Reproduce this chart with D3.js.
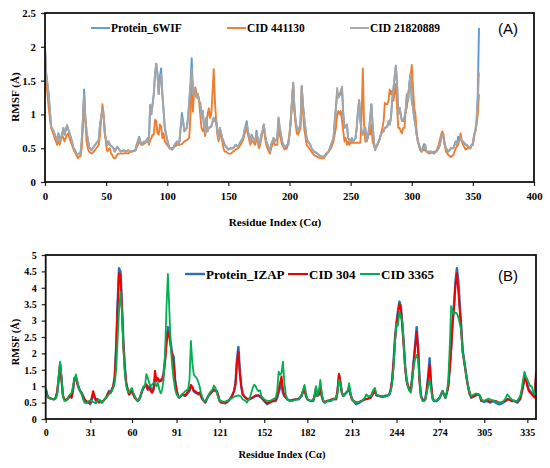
<!DOCTYPE html>
<html>
<head>
<meta charset="utf-8">
<script src="https://cdn.jsdelivr.net/npm/d3@7"></script>
<style>
  body { margin: 0; background: #fff; }
  svg text { font-family: "Liberation Serif", "Times New Roman", serif; font-weight: bold; fill: #000; }
</style>
</head>
<body>
<div id="fig"></div>
<script>
// ---- panel A data: [residue, RMSF] ----
const protein6WIF = [[0,2.0],[1,1.6],[3,1.3],[5,0.82],[7,0.75],[8,0.7],[10,0.6],[11,0.72],[12,0.6],[14,0.7],[15,0.8],[16,0.7],[18,0.84],[19,0.78],[21,0.67],[22,0.6],[23,0.52],[25,0.45],[26,0.4],[27,0.42],[29,0.42],[30,0.6],[31,0.95],[32,1.37],[33,0.95],[34,0.75],[36,0.52],[38,0.47],[41,0.55],[44,0.62],[45,0.85],[47,1.08],[48,0.95],[49,0.7],[51,0.55],[52,0.6],[53,0.55],[55,0.52],[56,0.5],[57,0.45],[59,0.52],[60,0.5],[62,0.45],[64,0.47],[66,0.45],[68,0.47],[70,0.45],[72,0.46],[74,0.47],[75,0.55],[77,0.67],[78,0.6],[79,0.55],[81,0.6],[82,0.58],[84,0.65],[85,0.58],[86,1.14],[87,1.0],[89,1.3],[90,1.6],[91,1.75],[92,1.6],[93,1.3],[94,1.55],[95,1.68],[96,1.3],[97,1.05],[98,0.8],[100,0.62],[101,0.55],[102,0.5],[104,0.48],[105,0.5],[106,0.55],[108,0.6],[109,0.55],[110,0.6],[111,0.82],[112,1.02],[113,0.9],[114,0.75],[116,0.8],[117,0.95],[119,1.45],[120,1.83],[121,1.35],[122,1.38],[123,1.3],[124,1.25],[125,1.3],[126,1.2],[127,1.17],[128,0.95],[129,1.05],[130,0.85],[131,0.72],[132,0.95],[133,0.75],[134,0.8],[136,0.82],[138,0.95],[139,0.9],[140,0.92],[141,0.75],[142,0.65],[143,0.8],[145,0.65],[146,0.6],[147,0.55],[150,0.48],[152,0.5],[154,0.5],[156,0.55],[158,0.52],[160,0.6],[162,0.65],[163,0.75],[165,0.9],[166,0.75],[168,0.6],[169,0.7],[170,0.65],[172,0.6],[173,0.76],[174,0.65],[175,0.55],[176,0.6],[177,0.7],[178,0.75],[179,0.85],[180,0.7],[181,0.6],[183,0.5],[184,0.45],[185,0.55],[187,0.65],[188,0.6],[190,0.65],[191,0.95],[192,0.8],[194,0.6],[195,0.55],[196,0.5],[198,0.55],[199,0.55],[200,0.7],[201,0.9],[203,1.47],[204,1.1],[205,0.9],[206,0.8],[207,0.75],[209,0.85],[210,1.42],[211,1.15],[212,0.95],[213,0.8],[214,0.65],[215,0.6],[217,0.55],[218,0.5],[220,0.45],[222,0.43],[224,0.4],[226,0.38],[228,0.37],[230,0.42],[232,0.45],[233,0.5],[235,0.6],[236,0.65],[237,0.9],[238,1.1],[239,1.32],[240,1.25],[241,1.28],[243,1.35],[244,1.0],[245,0.8],[247,0.85],[248,0.65],[250,0.6],[251,0.65],[252,0.6],[254,0.65],[255,0.8],[256,1.05],[257,1.21],[258,0.9],[259,0.75],[260,0.7],[262,0.8],[263,0.6],[264,0.65],[265,0.75],[266,0.95],[267,1.15],[268,0.85],[269,0.6],[270,0.47],[271,0.52],[273,0.6],[274,0.65],[275,0.72],[277,0.75],[278,0.8],[280,0.82],[281,0.9],[282,0.85],[283,0.95],[284,1.2],[286,1.55],[287,1.72],[288,1.45],[289,1.0],[290,1.1],[292,0.9],[293,0.9],[294,0.95],[295,1.05],[296,1.3],[297,1.2],[298,1.45],[299,1.6],[300,1.2],[301,1.1],[302,0.95],[303,0.85],[304,0.7],[305,0.6],[307,0.47],[308,0.45],[309,0.5],[310,0.56],[311,0.55],[312,0.45],[314,0.45],[316,0.45],[318,0.42],[320,0.45],[322,0.5],[323,0.55],[324,0.65],[325,0.72],[326,0.65],[327,0.55],[328,0.5],[330,0.45],[332,0.5],[334,0.5],[335,0.55],[336,0.6],[337,0.55],[338,0.67],[339,0.62],[340,0.65],[341,0.6],[342,0.6],[344,0.55],[345,0.55],[346,0.52],[348,0.5],[349,0.55],[350,0.55],[351,0.7],[352,0.75],[353,0.9],[354,1.3],[355,2.28]];

const cid441130 = [[0,1.9],[1,1.5],[3,1.1],[5,0.8],[6,0.75],[8,0.65],[10,0.55],[11,0.65],[12,0.55],[14,0.7],[15,0.65],[16,0.6],[18,0.7],[19,0.72],[20,0.65],[22,0.55],[23,0.5],[24,0.45],[25,0.42],[27,0.35],[28,0.38],[29,0.38],[30,0.5],[31,0.8],[32,1.27],[33,0.9],[34,0.6],[35,0.5],[36,0.45],[38,0.42],[40,0.45],[42,0.5],[44,0.55],[45,0.7],[46,0.95],[47,1.15],[48,1.0],[49,0.75],[50,0.55],[51,0.45],[52,0.48],[53,0.5],[54,0.42],[55,0.4],[56,0.36],[57,0.35],[58,0.36],[59,0.4],[60,0.42],[62,0.42],[64,0.42],[66,0.43],[68,0.42],[70,0.45],[72,0.45],[74,0.47],[76,0.55],[77,0.6],[78,0.57],[80,0.55],[82,0.58],[84,0.62],[85,0.55],[86,0.62],[87,0.65],[88,0.7],[89,0.7],[90,0.92],[91,0.9],[92,0.72],[93,0.7],[94,0.85],[95,0.82],[96,0.65],[97,0.72],[98,0.6],[100,0.55],[101,0.52],[102,0.5],[104,0.5],[106,0.52],[108,0.55],[110,0.55],[112,0.56],[114,0.6],[116,0.62],[118,0.65],[119,1.0],[120,1.5],[121,1.04],[122,1.35],[123,1.4],[124,1.3],[125,1.3],[126,1.2],[127,1.0],[128,0.8],[129,0.75],[130,0.8],[131,0.68],[132,0.8],[133,1.0],[134,1.09],[135,0.95],[136,1.0],[137,1.3],[138,1.67],[139,1.2],[140,0.9],[141,0.7],[142,0.6],[143,0.75],[145,0.6],[146,0.5],[147,0.45],[148,0.45],[150,0.42],[152,0.42],[154,0.45],[156,0.48],[158,0.5],[160,0.55],[162,0.62],[163,0.7],[165,0.8],[166,0.7],[168,0.55],[169,0.62],[170,0.6],[172,0.55],[173,0.65],[174,0.6],[175,0.5],[176,0.55],[177,0.65],[178,0.75],[179,0.84],[180,0.65],[181,0.55],[183,0.45],[184,0.42],[185,0.5],[187,0.6],[188,0.55],[190,0.55],[191,0.85],[192,0.7],[194,0.55],[196,0.48],[198,0.5],[200,0.7],[201,0.9],[203,1.45],[204,1.05],[205,0.85],[206,0.72],[207,0.7],[209,0.8],[210,1.4],[211,1.05],[212,0.8],[214,0.55],[216,0.5],[218,0.45],[220,0.4],[222,0.38],[224,0.36],[226,0.35],[228,0.35],[230,0.4],[232,0.45],[234,0.5],[236,0.6],[238,0.8],[239,1.0],[240,1.05],[241,1.0],[242,1.05],[243,0.9],[244,0.75],[245,0.6],[246,0.65],[247,0.55],[248,0.6],[249,0.55],[250,0.58],[252,0.58],[254,0.58],[256,0.58],[258,0.58],[259,1.0],[260,1.68],[261,0.85],[262,0.6],[264,0.65],[265,0.8],[266,0.7],[267,0.85],[268,0.6],[270,0.5],[272,0.55],[274,0.65],[276,0.8],[277,0.9],[278,1.17],[279,1.15],[280,1.15],[281,1.2],[282,1.37],[283,1.3],[284,1.35],[285,1.2],[287,1.45],[288,1.1],[289,0.8],[290,0.8],[291,0.75],[292,0.72],[293,0.8],[294,0.8],[295,1.05],[296,1.1],[297,1.3],[298,1.4],[299,1.55],[300,1.73],[301,1.4],[302,1.1],[303,1.0],[304,0.75],[305,0.6],[306,0.55],[308,0.45],[310,0.48],[312,0.45],[314,0.42],[316,0.43],[318,0.45],[320,0.45],[322,0.55],[324,0.7],[325,0.75],[326,0.7],[327,0.55],[328,0.45],[330,0.4],[332,0.37],[334,0.4],[336,0.5],[338,0.55],[339,0.62],[340,0.72],[341,0.6],[342,0.55],[344,0.48],[346,0.5],[348,0.5],[350,0.58],[352,0.75],[353,0.85],[354,1.0],[355,1.3]];

const cid21820889 = [[0,2.0],[1,1.6],[3,1.3],[5,0.82],[7,0.75],[8,0.7],[10,0.6],[11,0.72],[12,0.6],[14,0.7],[15,0.8],[16,0.7],[18,0.84],[19,0.78],[21,0.67],[22,0.6],[23,0.52],[25,0.45],[26,0.4],[27,0.42],[29,0.42],[30,0.6],[31,0.9],[32,1.3],[33,0.95],[34,0.75],[36,0.52],[38,0.47],[41,0.55],[44,0.62],[45,0.85],[47,1.08],[48,0.95],[49,0.7],[51,0.55],[52,0.6],[53,0.55],[55,0.52],[56,0.5],[57,0.45],[59,0.52],[60,0.5],[62,0.45],[64,0.47],[66,0.45],[68,0.47],[70,0.45],[72,0.46],[74,0.47],[75,0.55],[77,0.65],[78,0.6],[79,0.55],[81,0.6],[82,0.58],[84,0.65],[85,0.58],[86,1.14],[87,1.0],[89,1.3],[90,1.6],[91,1.75],[92,1.6],[93,1.3],[94,1.5],[95,1.6],[96,1.3],[97,1.05],[98,0.8],[100,0.62],[101,0.55],[102,0.5],[104,0.48],[105,0.5],[106,0.55],[108,0.6],[109,0.55],[110,0.6],[111,0.8],[112,0.95],[113,0.88],[114,0.75],[116,0.8],[117,0.95],[119,1.4],[120,1.68],[121,1.3],[122,1.38],[123,1.3],[124,1.25],[125,1.3],[126,1.2],[127,1.17],[128,0.95],[129,1.05],[130,0.85],[131,0.72],[132,0.95],[133,0.75],[134,0.8],[136,0.82],[138,0.95],[139,0.9],[140,0.92],[141,0.75],[142,0.65],[143,0.8],[145,0.65],[146,0.6],[147,0.55],[150,0.48],[152,0.5],[154,0.5],[156,0.55],[158,0.52],[160,0.6],[162,0.65],[163,0.75],[165,0.85],[166,0.75],[168,0.6],[169,0.7],[170,0.65],[172,0.6],[173,0.72],[174,0.65],[175,0.55],[176,0.6],[177,0.7],[178,0.75],[179,0.85],[180,0.7],[181,0.6],[183,0.5],[184,0.45],[185,0.55],[187,0.65],[188,0.6],[190,0.65],[191,0.95],[192,0.8],[194,0.6],[195,0.55],[196,0.5],[198,0.55],[199,0.55],[200,0.7],[201,0.9],[203,1.47],[204,1.1],[205,0.9],[206,0.8],[207,0.75],[209,0.85],[210,1.42],[211,1.15],[212,0.95],[213,0.8],[214,0.65],[215,0.6],[217,0.55],[218,0.5],[220,0.45],[222,0.43],[224,0.4],[226,0.38],[228,0.37],[230,0.42],[232,0.45],[233,0.5],[235,0.6],[236,0.65],[237,0.9],[238,1.1],[239,1.39],[240,1.25],[241,1.3],[243,1.41],[244,1.0],[245,0.8],[247,0.85],[248,0.65],[250,0.6],[251,0.65],[252,0.6],[254,0.65],[255,0.8],[256,1.05],[257,1.21],[258,0.9],[259,0.75],[260,0.7],[262,0.8],[263,0.6],[264,0.65],[265,0.75],[266,0.95],[267,1.15],[268,0.85],[269,0.6],[270,0.47],[271,0.52],[273,0.6],[274,0.65],[275,0.72],[277,0.75],[278,0.8],[280,0.82],[281,0.9],[282,0.85],[283,0.95],[284,1.2],[286,1.55],[287,1.72],[288,1.45],[289,1.0],[290,1.1],[292,0.9],[293,0.9],[294,0.95],[295,1.05],[296,1.3],[297,1.2],[298,1.45],[299,1.6],[300,1.2],[301,1.1],[302,0.95],[303,0.85],[304,0.7],[305,0.6],[307,0.47],[308,0.45],[309,0.5],[310,0.5],[311,0.55],[312,0.45],[314,0.45],[316,0.45],[318,0.42],[320,0.45],[322,0.5],[323,0.55],[324,0.65],[325,0.72],[326,0.65],[327,0.55],[328,0.5],[330,0.45],[332,0.5],[334,0.5],[335,0.55],[336,0.6],[337,0.55],[338,0.6],[339,0.62],[340,0.65],[341,0.6],[342,0.6],[344,0.55],[345,0.55],[346,0.52],[348,0.5],[349,0.55],[350,0.55],[351,0.7],[352,0.75],[353,0.9],[354,1.2],[355,1.62]];

// ---- panel B data ----
const proteinIZAP = [[0,0.93],[1,0.75],[2,0.65],[4,0.62],[6,0.6],[7,0.65],[8,0.8],[9,1.2],[10,1.65],[11,1.2],[12,0.7],[13,0.6],[14,0.58],[15,0.6],[16,0.65],[17,0.7],[18,0.65],[19,0.9],[20,1.25],[21,1.28],[22,1.1],[23,0.95],[24,0.85],[25,0.8],[26,0.7],[27,0.6],[28,0.55],[29,0.5],[30,0.5],[31,0.45],[32,0.6],[33,0.75],[34,0.65],[35,0.55],[36,0.6],[37,0.5],[38,0.55],[39,0.5],[40,0.55],[42,0.65],[43,0.75],[44,0.85],[45,0.8],[46,0.9],[47,1.0],[48,1.3],[49,2.2],[50,3.5],[51,4.6],[52,4.5],[53,3.5],[54,2.4],[55,1.6],[56,1.1],[57,0.9],[58,0.75],[59,0.8],[60,0.85],[61,0.75],[62,0.65],[63,0.6],[64,0.55],[65,0.6],[66,0.7],[67,0.85],[68,0.95],[69,1.0],[70,1.05],[71,0.9],[72,1.0],[73,0.95],[74,0.85],[75,0.9],[76,1.2],[77,1.15],[78,1.2],[79,1.15],[80,1.2],[81,1.2],[82,1.4],[83,1.8],[84,2.4],[85,2.8],[86,2.6],[87,2.3],[88,2.0],[89,1.9],[90,1.2],[91,0.9],[92,0.7],[93,0.65],[94,0.7],[95,0.75],[96,0.72],[97,0.7],[98,0.75],[99,0.8],[100,0.85],[101,1.0],[102,0.95],[103,0.85],[104,0.8],[105,0.8],[106,0.75],[107,0.8],[108,0.7],[109,0.6],[110,0.55],[111,0.5],[112,0.6],[113,0.7],[114,0.75],[115,0.8],[116,0.85],[117,0.88],[118,0.85],[119,0.85],[120,0.7],[121,0.55],[122,0.5],[123,0.5],[125,0.48],[127,0.55],[129,0.65],[130,0.75],[131,0.85],[132,1.1],[133,1.8],[134,2.2],[135,1.5],[136,1.0],[137,0.75],[138,0.7],[139,0.65],[140,0.6],[142,0.6],[144,0.65],[146,0.7],[148,0.72],[150,0.65],[152,0.55],[153,0.5],[154,0.45],[156,0.5],[158,0.55],[160,0.55],[161,0.65],[162,0.8],[163,0.95],[164,1.09],[165,0.8],[166,0.7],[168,0.6],[170,0.55],[172,0.58],[174,0.6],[176,0.6],[178,0.7],[179,0.85],[180,0.9],[181,0.7],[182,0.6],[184,0.55],[186,0.55],[187,0.7],[188,0.95],[189,0.7],[190,0.75],[191,1.0],[192,0.7],[193,0.55],[194,0.5],[196,0.55],[198,0.55],[200,0.6],[202,0.6],[203,0.85],[204,1.35],[205,1.1],[206,0.8],[207,0.7],[208,0.75],[210,0.85],[211,0.95],[212,0.75],[213,0.6],[214,0.55],[216,0.45],[218,0.5],[220,0.55],[222,0.6],[224,0.62],[226,0.65],[228,0.8],[229,0.85],[230,0.72],[232,0.7],[234,0.68],[236,0.7],[238,0.72],[239,0.75],[240,0.9],[241,1.2],[242,1.8],[243,2.5],[244,2.95],[245,3.3],[246,3.58],[247,3.45],[248,2.9],[249,2.3],[250,1.6],[251,1.2],[252,1.0],[253,0.9],[254,0.88],[255,1.3],[256,1.8],[257,2.3],[258,2.8],[259,2.2],[260,1.2],[261,0.7],[262,0.6],[263,0.55],[264,0.6],[265,0.9],[266,1.3],[267,1.85],[268,1.1],[269,0.65],[270,0.55],[272,0.55],[274,0.65],[275,0.75],[276,0.85],[277,0.75],[278,0.65],[279,0.8],[280,1.0],[281,1.6],[282,2.2],[283,3.0],[284,3.5],[285,4.2],[286,4.6],[287,4.2],[288,3.5],[289,2.8],[290,2.1],[291,1.8],[292,1.5],[293,1.2],[294,0.95],[295,0.75],[296,0.65],[298,0.7],[299,0.72],[301,0.75],[302,0.7],[303,0.55],[305,0.52],[307,0.55],[309,0.5],[311,0.55],[313,0.5],[315,0.45],[316,0.45],[318,0.5],[320,0.55],[321,0.6],[322,0.6],[324,0.55],[326,0.55],[328,0.5],[330,0.6],[331,0.8],[332,1.0],[333,1.3],[334,1.25],[335,1.05],[336,0.9],[337,0.85],[338,0.8],[340,0.7],[341,1.2]];

const cid304 = [[0,0.9],[1,0.72],[2,0.65],[4,0.62],[6,0.6],[7,0.66],[8,0.85],[9,1.25],[10,1.7],[11,1.2],[12,0.7],[13,0.6],[14,0.58],[15,0.6],[16,0.66],[17,0.72],[18,0.66],[19,0.9],[20,1.22],[21,1.25],[22,1.08],[23,0.95],[24,0.85],[25,0.78],[26,0.68],[27,0.6],[28,0.55],[29,0.52],[30,0.5],[31,0.5],[32,0.65],[33,0.85],[34,0.7],[35,0.58],[36,0.6],[37,0.52],[38,0.55],[39,0.52],[40,0.55],[42,0.65],[43,0.75],[44,0.82],[45,0.8],[46,0.88],[47,1.0],[48,1.25],[49,2.1],[50,3.4],[51,4.45],[52,4.4],[53,3.4],[54,2.3],[55,1.55],[56,1.1],[57,0.9],[58,0.75],[59,0.8],[60,0.85],[61,0.75],[62,0.65],[63,0.6],[64,0.55],[65,0.6],[66,0.72],[67,0.85],[68,0.95],[69,1.0],[70,1.05],[71,0.9],[72,0.95],[73,0.85],[74,0.8],[75,0.9],[76,1.47],[77,1.2],[78,1.25],[79,1.15],[80,1.15],[81,1.2],[82,1.35],[83,1.75],[84,2.3],[85,2.66],[86,2.5],[87,2.2],[88,1.9],[89,1.7],[90,1.15],[91,0.88],[92,0.7],[93,0.65],[94,0.7],[95,0.75],[96,0.75],[97,0.72],[98,0.78],[99,0.85],[100,0.9],[101,1.04],[102,0.98],[103,0.85],[104,0.85],[105,0.8],[106,0.78],[107,0.8],[108,0.7],[109,0.6],[110,0.55],[111,0.52],[112,0.6],[113,0.7],[114,0.75],[115,0.8],[116,0.85],[117,0.9],[118,0.88],[119,0.85],[120,0.7],[121,0.55],[122,0.52],[123,0.5],[125,0.5],[127,0.55],[129,0.65],[130,0.75],[131,0.85],[132,1.05],[133,1.7],[134,2.05],[135,1.4],[136,1.0],[137,0.75],[138,0.7],[139,0.65],[140,0.62],[142,0.62],[144,0.66],[146,0.72],[148,0.72],[150,0.66],[152,0.56],[153,0.52],[154,0.48],[156,0.52],[158,0.55],[160,0.58],[161,0.7],[162,0.9],[163,1.1],[164,1.3],[165,0.9],[166,0.72],[168,0.6],[170,0.56],[172,0.58],[174,0.6],[176,0.62],[178,0.72],[179,0.85],[180,0.9],[181,0.72],[182,0.6],[184,0.56],[186,0.56],[187,0.7],[188,0.9],[189,0.7],[190,0.75],[191,0.95],[192,0.7],[193,0.56],[194,0.52],[196,0.56],[198,0.58],[200,0.62],[202,0.62],[203,0.9],[204,1.38],[205,1.1],[206,0.8],[207,0.7],[208,0.75],[210,0.85],[211,0.95],[212,0.75],[213,0.6],[214,0.56],[216,0.5],[218,0.52],[220,0.56],[222,0.6],[224,0.62],[226,0.65],[228,0.8],[229,0.85],[230,0.72],[232,0.7],[234,0.68],[236,0.7],[238,0.72],[239,0.75],[240,0.9],[241,1.2],[242,1.75],[243,2.45],[244,2.9],[245,3.2],[246,3.5],[247,3.35],[248,2.85],[249,2.25],[250,1.55],[251,1.15],[252,1.0],[253,0.9],[254,0.9],[255,1.3],[256,1.75],[257,2.2],[258,2.65],[259,2.1],[260,1.15],[261,0.7],[262,0.6],[263,0.56],[264,0.6],[265,0.85],[266,1.25],[267,1.65],[268,1.05],[269,0.65],[270,0.56],[272,0.56],[274,0.65],[275,0.75],[276,0.85],[277,0.75],[278,0.65],[279,0.8],[280,1.0],[281,1.5],[282,2.1],[283,2.9],[284,3.4],[285,4.1],[286,4.45],[287,3.9],[288,3.3],[289,2.75],[290,2.05],[291,1.75],[292,1.45],[293,1.15],[294,0.92],[295,0.75],[296,0.66],[298,0.7],[299,0.72],[301,0.75],[302,0.7],[303,0.56],[305,0.55],[307,0.58],[309,0.52],[311,0.56],[313,0.55],[315,0.5],[316,0.5],[318,0.52],[320,0.56],[321,0.6],[322,0.6],[324,0.56],[326,0.56],[328,0.52],[330,0.62],[331,0.8],[332,1.0],[333,1.25],[334,1.2],[335,1.0],[336,0.85],[337,0.8],[338,0.75],[340,0.65],[341,1.44]];

const cid3365 = [[0,0.9],[1,0.7],[3,0.62],[5,0.6],[7,0.62],[8,0.75],[9,1.3],[10,1.75],[11,1.3],[12,0.7],[13,0.55],[14,0.55],[15,0.62],[16,0.7],[17,0.75],[18,0.8],[19,1.0],[20,1.2],[21,1.36],[22,1.15],[23,0.95],[24,0.85],[25,0.75],[26,0.6],[27,0.5],[28,0.48],[29,0.5],[30,0.55],[31,0.55],[32,0.55],[33,0.52],[34,0.5],[35,0.48],[36,0.55],[37,0.6],[38,0.55],[39,0.5],[40,0.55],[42,0.65],[44,0.75],[46,0.85],[47,0.95],[48,1.1],[49,1.5],[50,2.4],[51,3.3],[52,3.88],[53,3.3],[54,2.2],[55,1.4],[56,1.0],[57,0.85],[58,0.8],[59,0.9],[60,0.95],[61,0.8],[62,0.7],[63,0.6],[64,0.55],[65,0.6],[66,0.7],[67,0.85],[68,1.0],[69,1.0],[70,1.37],[71,1.25],[72,1.1],[73,1.0],[74,1.05],[75,1.1],[76,1.1],[77,1.0],[78,1.1],[79,0.9],[80,0.78],[81,0.9],[82,1.2],[83,2.0],[84,3.4],[85,4.42],[86,3.3],[87,2.2],[88,1.6],[89,1.2],[90,0.9],[91,0.75],[92,0.7],[93,0.65],[94,0.7],[95,0.75],[96,0.8],[97,0.85],[98,0.88],[99,0.9],[100,1.2],[101,2.38],[102,1.7],[103,1.35],[104,1.3],[105,1.25],[106,1.15],[107,1.0],[108,0.8],[109,0.65],[110,0.55],[111,0.55],[112,0.6],[113,0.7],[114,0.8],[115,0.85],[116,0.9],[117,1.02],[118,0.95],[119,0.8],[120,0.65],[121,0.55],[122,0.55],[124,0.52],[126,0.55],[128,0.6],[130,0.65],[132,0.7],[134,0.72],[136,0.68],[137,0.6],[139,0.55],[140,0.5],[142,0.65],[143,0.8],[144,0.95],[145,1.05],[146,1.0],[147,0.9],[148,0.85],[149,0.88],[150,0.7],[152,0.6],[154,0.55],[156,0.55],[158,0.6],[160,0.65],[161,0.85],[162,1.44],[163,1.35],[164,1.4],[165,1.75],[166,1.1],[167,0.75],[168,0.6],[170,0.55],[172,0.55],[174,0.6],[176,0.6],[178,0.75],[179,0.9],[180,1.04],[181,0.8],[182,0.6],[184,0.55],[186,0.55],[187,0.75],[188,1.0],[189,0.7],[190,0.85],[191,1.19],[192,0.8],[193,0.55],[194,0.5],[196,0.55],[198,0.55],[200,0.6],[202,0.65],[203,0.8],[204,1.2],[205,1.05],[206,0.8],[207,0.7],[208,0.75],[210,0.85],[211,1.09],[212,0.8],[213,0.6],[214,0.55],[216,0.5],[218,0.52],[220,0.55],[222,0.65],[223,0.75],[224,0.7],[226,0.7],[228,0.9],[229,0.95],[230,0.75],[232,0.7],[234,0.7],[236,0.68],[238,0.72],[239,0.75],[240,0.85],[241,1.1],[242,1.6],[243,2.4],[244,2.9],[245,2.85],[246,3.27],[247,3.1],[248,3.0],[249,2.3],[250,1.6],[251,1.2],[252,0.95],[253,0.85],[254,0.8],[255,1.2],[256,1.6],[257,1.85],[258,1.95],[259,1.8],[260,1.2],[261,0.7],[262,0.55],[263,0.55],[264,0.6],[265,0.8],[266,1.0],[267,1.2],[268,0.9],[269,0.6],[270,0.55],[272,0.55],[274,0.65],[275,0.75],[276,0.85],[277,0.75],[278,0.65],[279,0.8],[280,1.2],[281,2.2],[282,3.44],[283,3.3],[284,3.2],[285,3.25],[286,3.22],[287,3.1],[288,2.9],[289,2.7],[290,2.0],[291,1.8],[292,1.5],[293,1.2],[294,0.95],[295,0.8],[296,0.7],[298,0.75],[299,0.78],[301,0.75],[302,0.72],[303,0.6],[305,0.55],[307,0.6],[308,0.62],[310,0.58],[312,0.55],[314,0.5],[316,0.48],[318,0.52],[320,0.65],[321,0.75],[322,0.7],[324,0.6],[326,0.55],[328,0.55],[330,0.7],[331,0.9],[332,1.2],[333,1.44],[334,1.3],[335,1.2],[336,1.1],[337,1.0],[338,1.0],[339,0.85],[340,0.75],[341,1.05]];

const ticksA_x = [0, 50, 100, 150, 200, 250, 300, 350, 400];
const ticksA_y = [0, 0.5, 1, 1.5, 2, 2.5];
const ticksB_x = [0, 31, 60, 91, 121, 152, 182, 213, 244, 274, 305, 335];
const ticksB_y = [0, 0.5, 1, 1.5, 2, 2.5, 3, 3.5, 4, 4.5, 5];

const W = 550, H = 468;
const svg = d3.select("#fig").append("svg")
    .attr("width", W).attr("height", H)
    .style("background", "#fff");

function panel(opt) {
  const x = d3.scaleLinear().domain(opt.xDomain).range([opt.left, opt.right]);
  const y = d3.scaleLinear().domain(opt.yDomain).range([opt.bottom, opt.top]);
  const g = svg.append("g");

  // bottom axis
  g.append("g")
      .attr("transform", `translate(0,${opt.bottom})`)
      .call(d3.axisBottom(x).tickValues(opt.xTicks).tickSize(4).tickSizeOuter(0).tickFormat(d3.format("d")))
      .call(a => a.select(".domain").remove())
      .call(a => a.selectAll("line").attr("stroke", "#222").attr("stroke-width", 1.2))
      .call(a => a.selectAll("text").attr("font-size", opt.tickFont).attr("dy", "1em")
          .style("font-family", "Liberation Serif").style("font-weight", "bold"));

  // left axis
  g.append("g")
      .attr("transform", `translate(${opt.left},0)`)
      .call(d3.axisLeft(y).tickValues(opt.yTicks).tickSize(4).tickSizeOuter(0).tickFormat(d => String(d)))
      .call(a => a.select(".domain").remove())
      .call(a => a.selectAll("line").attr("stroke", "#222").attr("stroke-width", 1.2))
      .call(a => a.selectAll("text").attr("font-size", opt.tickFont).attr("dx", "-0.2em")
          .style("font-family", "Liberation Serif").style("font-weight", "bold"));

  const line = d3.line().x(d => x(d[0])).y(d => y(d[1]));
  const clip = "clip" + opt.id;
  svg.append("clipPath").attr("id", clip).append("rect")
      .attr("x", opt.left).attr("y", opt.top)
      .attr("width", opt.right - opt.left).attr("height", opt.bottom - opt.top);

  opt.series.forEach(s => {
    g.append("path")
        .datum(s.data)
        .attr("clip-path", `url(#${clip})`)
        .attr("fill", "none")
        .attr("stroke", s.color)
        .attr("stroke-width", s.width)
        .attr("stroke-linejoin", "round")
        .attr("d", line);
  });

  // frame
  g.append("rect")
      .attr("x", opt.left).attr("y", opt.top)
      .attr("width", opt.right - opt.left).attr("height", opt.bottom - opt.top)
      .attr("fill", "none").attr("stroke", "#111").attr("stroke-width", 1.8);

  // legend
  opt.legend.forEach(l => {
    g.append("line")
        .attr("x1", l.x).attr("x2", l.x + l.len)
        .attr("y1", opt.legendY).attr("y2", opt.legendY)
        .attr("stroke", l.color).attr("stroke-width", l.width);
    g.append("text")
        .attr("x", l.x + l.len + 1).attr("y", opt.legendY)
        .attr("dy", "0.35em")
        .attr("font-size", opt.legendFont)
        .text(l.name);
  });

  g.append("text")
      .attr("x", opt.tag.x).attr("y", opt.tag.y).attr("dy", "0.35em")
      .style("font-family", "Liberation Sans, Arial, sans-serif").style("font-weight", "normal")
      .attr("font-size", 15)
      .text(opt.tag.text);

  g.append("text")
      .attr("transform", `translate(15,${opt.yTitleY}) rotate(-90)`)
      .attr("text-anchor", "middle").attr("dy", "0.35em")
      .attr("font-size", opt.titleFont)
      .text("RMSF (Å)");

  g.append("text")
      .attr("x", opt.xTitleX).attr("y", opt.xTitleY)
      .attr("text-anchor", "middle").attr("dy", "0.35em")
      .attr("font-size", opt.titleFont)
      .text("Residue Index (Cα)");
}

panel({
  id: "A", left: 45, right: 534, top: 13, bottom: 182,
  xDomain: [0, 400], yDomain: [0, 2.5], xTicks: ticksA_x, yTicks: ticksA_y,
  tickFont: 10.8, legendFont: 11.5, titleFont: 11.2, legendY: 28,
  series: [
    { data: protein6WIF, color: "#5B9BD5", width: 1.9 },
    { data: cid441130, color: "#ED7D31", width: 1.9 },
    { data: cid21820889, color: "#A5A5A5", width: 1.9 }
  ],
  legend: [
    { name: "Protein_6WIF", x: 91, len: 19, color: "#5B9BD5", width: 1.9 },
    { name: "CID 441130", x: 227, len: 19, color: "#ED7D31", width: 1.9 },
    { name: "CID 21820889", x: 350, len: 19, color: "#A5A5A5", width: 1.9 }
  ],
  tag: { text: "(A)", x: 498, y: 29 },
  yTitleY: 97, xTitleX: 275, xTitleY: 222
});

panel({
  id: "B", left: 45.7, right: 536, top: 255, bottom: 419,
  xDomain: [0, 341], yDomain: [0, 5], xTicks: ticksB_x, yTicks: ticksB_y,
  tickFont: 10, legendFont: 13, titleFont: 10.5, legendY: 274,
  series: [
    { data: proteinIZAP, color: "#2E6DB8", width: 2.4 },
    { data: cid304, color: "#F00000", width: 2 },
    { data: cid3365, color: "#00B050", width: 1.8 }
  ],
  legend: [
    { name: "Protein_IZAP", x: 185, len: 20, color: "#2E6DB8", width: 2.4 },
    { name: "CID 304", x: 288, len: 20, color: "#F00000", width: 2 },
    { name: "CID 3365", x: 360, len: 20, color: "#00B050", width: 2 }
  ],
  tag: { text: "(B)", x: 498, y: 276 },
  yTitleY: 342, xTitleX: 282, xTitleY: 454
});
</script>
</body>
</html>
